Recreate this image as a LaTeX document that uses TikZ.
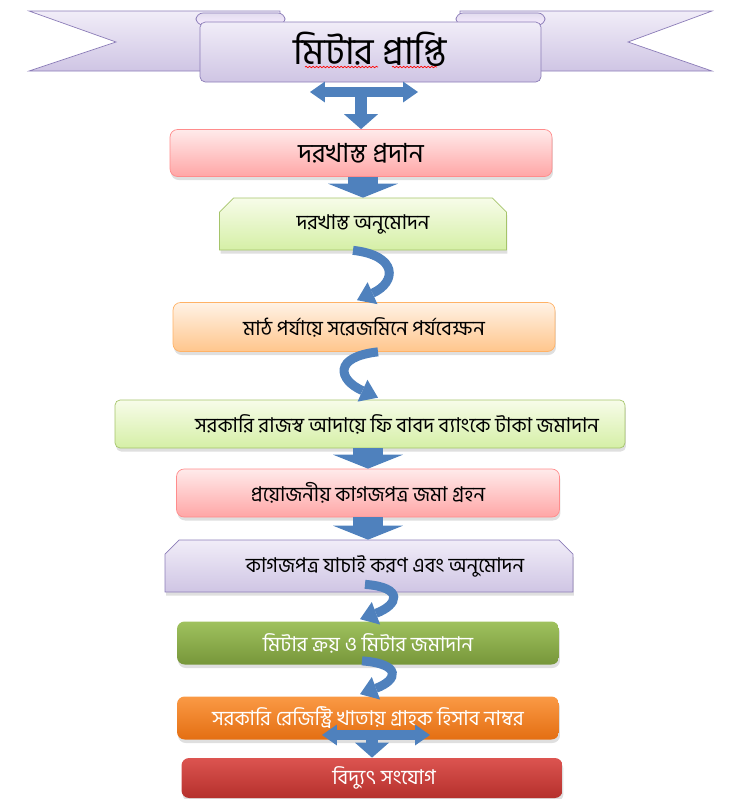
\documentclass[tikz,border=0pt]{standalone}
\usepackage{fontspec}
\newfontfamily\bn[Script=Bengali]{Hind Siliguri}
\usetikzlibrary{arrows.meta}
\usetikzlibrary{calc}
\usetikzlibrary{shapes.misc}
\usetikzlibrary{shadows}
\usetikzlibrary{decorations.pathmorphing}
\definecolor{kek}{HTML}{4F81BD}
\definecolor{lila1}{HTML}{F1EDF8}
\definecolor{lila2}{HTML}{CFC5E4}
\definecolor{lilakeret}{HTML}{8C7DB8}
\definecolor{zold1}{HTML}{F7FCE9}
\definecolor{zold2}{HTML}{D5EFA6}
\definecolor{zoldkeret}{HTML}{A5C46A}
\definecolor{fu1}{HTML}{9FC15E}
\definecolor{fu2}{HTML}{77973A}
\definecolor{sarga1}{HTML}{FA9A45}
\definecolor{sarga2}{HTML}{E46E12}
\definecolor{voros1}{HTML}{DC5450}
\definecolor{voros2}{HTML}{B5302C}

\begin{document}
\begin{tikzpicture}[x=0.02cm,y=-0.02cm,
lepes/.style={rectangle,rounded corners=1.5mm,inner sep=0pt,
  font=\bn\fontsize{11.6}{13}\selectfont,
  drop shadow={shadow xshift=0.2mm,shadow yshift=-0.7mm,opacity=0.25}},
levagott/.style={chamfered rectangle,sharp corners,chamfered rectangle corners={north west,north east},
  chamfered rectangle xsep=1.4mm,chamfered rectangle ysep=1.4mm},
rozsa/.style={draw=red!45,top color=red!8,bottom color=red!35},
zoldes/.style={draw=zoldkeret,top color=zold1,bottom color=zold2},
narancs/.style={draw=orange!60,top color=orange!10,bottom color=orange!45},
lila/.style={draw=lilakeret,top color=lila1,bottom color=lila2},
fu/.style={top color=fu1,bottom color=fu2,text=white},
sarga/.style={top color=sarga1,bottom color=sarga2,text=white},
voros/.style={top color=voros1,bottom color=voros2,text=white},
blokknyil/.style={kek,line width=0.62cm,-{Triangle[width=1.4cm,length=0.28cm,line width=0pt]}},
ivesnyil/.style={kek,line width=0.18cm,-{Triangle[width=0.48cm,length=0.34cm,line width=0pt]}},
ketvegu/.style={kek,line width=0.2cm,{Triangle[width=0.42cm,length=0.3cm,line width=0pt]}-{Triangle[width=0.42cm,length=0.3cm,line width=0pt]}},
szar/.style={kek,line width=0.24cm,-{Triangle[width=0.68cm,length=0.3cm,line width=0pt]}}]

\useasboundingbox (0,0) rectangle (755,799);

% szalag
\shade[top color=lila1,bottom color=lila2,draw=lilakeret] (29,11) -- (280,11) -- (280,71) -- (29,71) -- (116,42) -- cycle;
\shade[top color=lila1,bottom color=lila2,draw=lilakeret] (712,11) -- (460,11) -- (460,71) -- (712,71) -- (628,42) -- cycle;
\shade[top color=lila2!60,bottom color=lila2!120!black,draw=lilakeret,rounded corners=4] (196,13) rectangle (285,25);
\shade[top color=lila2!60,bottom color=lila2!120!black,draw=lilakeret,rounded corners=4] (456,13) rectangle (545,25);
\shade[top color=lila1,bottom color=lila2,draw=lilakeret,rounded corners=3] (200,22) rectangle (541,82);
\node[font=\bn\fontsize{21}{24}\selectfont] (cim) at (370,49){মিটার প্রাপ্তি};
\draw[red,decorate,decoration={snake,amplitude=0.4pt,segment length=2pt}] (305,67) -- (378,67);
\draw[red,decorate,decoration={snake,amplitude=0.4pt,segment length=2pt}] (392,67) -- (437,67);

\node[lepes,rozsa,minimum width=7.64cm,minimum height=0.94cm,font=\bn\fontsize{15}{17}\selectfont] (apply) at (361,153){দরখাস্ত প্রদান};
\node[lepes,levagott,zoldes,minimum width=5.74cm,minimum height=1.04cm] (approve) at (363,224){দরখাস্ত অনুমোদন};
\node[lepes,narancs,minimum width=7.64cm,minimum height=0.98cm] (survey) at (364,327){মাঠ পর্যায়ে সরেজমিনে পর্যবেক্ষন};
\node[lepes,zoldes,rounded corners=1mm,minimum width=10.2cm,minimum height=0.96cm] (fee) at (370,424){\hspace*{1.08cm}সরকারি রাজস্ব আদায়ে ফি বাবদ ব্যাংকে টাকা জমাদান};
\node[lepes,rozsa,minimum width=7.66cm,minimum height=0.96cm] (papers) at (368,493){প্রয়োজনীয় কাগজপত্র জমা গ্রহন};
\node[lepes,levagott,lila,minimum width=8.16cm,minimum height=1.04cm] (verify) at (369,566){\hspace*{0.64cm}কাগজপত্র যাচাই করণ এবং অনুমোদন};
\node[lepes,fu,minimum width=7.64cm,minimum height=0.86cm] (buy) at (368,643){মিটার ক্রয় ও মিটার জমাদান};
\node[lepes,sarga,minimum width=7.64cm,minimum height=0.86cm] (register) at (368,718){সরকারি রেজিস্ট্রি খাতায় গ্রাহক হিসাব নাম্বর};
\node[lepes,voros,minimum width=7.62cm,minimum height=0.8cm] (connect) at (372,778){\hspace*{0.48cm}বিদ্যুৎ সংযোগ};

\coordinate (tbal) at (310,92);
\coordinate (tjobb) at (418,92);
\coordinate (tkozep) at (apply.north |- tbal);
\draw[ketvegu] (tbal) -- (tjobb);
\draw[szar] (tkozep) -- (apply.north);

\draw[blokknyil] (apply.south -| approve.north) -- (approve.north);
\draw[ivesnyil] ($(approve.south)+(-10,0)$) .. controls +(45,5) and +(40,-18) .. ($(survey.north)+(-7,-2)$);
\draw[ivesnyil] ($(survey.south)+(14,0)$) .. controls +(-45,5) and +(-40,-18) .. ($(fee.north)+(8,-2)$);
\draw[blokknyil] (fee.south -| papers.north) -- (papers.north);
\draw[blokknyil] (papers.south) -- (verify.north -| papers.south);
\draw[ivesnyil] ($(verify.south)+(-4,-8)$) .. controls +(40,3) and +(38,-14) .. ($(buy.north)+(-8,-2)$);
\draw[ivesnyil] ($(buy.south)+(-6,-4)$) .. controls +(40,3) and +(38,-14) .. ($(register.north)+(-8,-2)$);

\coordinate (abal) at (322,735);
\coordinate (ajobb) at (430,735);
\coordinate (akozep) at (connect.north |- abal);
\draw[ketvegu] (abal) -- (ajobb);
\draw[szar] (akozep) -- (connect.north);

\end{tikzpicture}
\end{document}
